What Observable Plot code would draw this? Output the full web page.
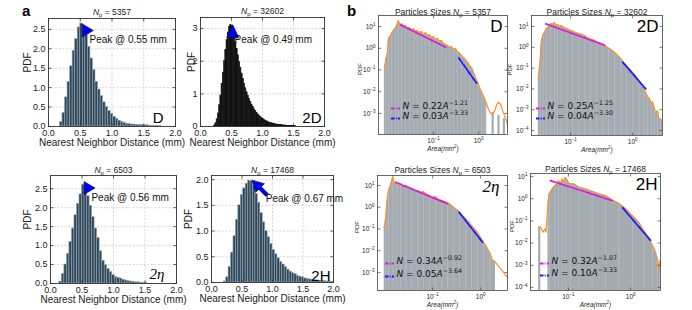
<!DOCTYPE html>
<html><head><meta charset="utf-8">
<script src="https://cdn.jsdelivr.net/npm/d3@7"></script>
<script src="https://cdn.jsdelivr.net/npm/@observablehq/plot@0.6"></script>
<style>
body{margin:0;background:#fff}
#fig{position:relative;width:692px;height:310px;overflow:hidden;background:#fff}
#fig svg{position:absolute;overflow:visible}
.plab{position:absolute;font:bold 15px "Liberation Sans",Arial,sans-serif;color:#000}
</style></head><body><div id="fig"></div>
<script>
// ---------- Panel a : nearest neighbour distance histograms ----------
const nnTicksX = [0, 0.5, 1, 1.5, 2];
const nnD_start = 0.18, nnD_width = 0.04;
const nnD_pdf = [0.12,0.35,0.75,1.15,1.55,1.95,2.25,2.55,2.65,2.58,2.35,2.05,1.75,1.45,1.15,0.95,0.78,0.62,0.50,0.40,0.32,0.25,0.20,0.15,0.12,0.09,0.07,0.06,0.05,0.05,0.04,0.04,0.04,0.03,0.03,0.02,0.02,0.02,0.01,0.01];
const nn2D_start = 0.22, nn2D_width = 0.02;
const nn2D_pdf = [0.03,0.10,0.22,0.40,0.65,0.95,1.30,1.65,2.00,2.35,2.65,2.88,3.05,3.12,3.08,2.95,2.78,2.58,2.38,2.18,1.98,1.80,1.62,1.46,1.31,1.17,1.05,0.94,0.84,0.75,0.67,0.60,0.53,0.47,0.42,0.37,0.33,0.29,0.26,0.23,0.20,0.18,0.16,0.14,0.12,0.11,0.10,0.09,0.08,0.07,0.06,0.055,0.05,0.045,0.04,0.035,0.03,0.03,0.025,0.02,0.02,0.02,0.015,0.015,0.01,0.01];
const nnEta_start = 0.14, nnEta_width = 0.04;
const nnEta_pdf = [0.05,0.25,0.50,0.78,1.10,1.45,1.80,2.10,2.35,2.60,2.55,2.30,2.05,1.75,1.45,1.20,0.85,0.60,0.48,0.38,0.30,0.22,0.17,0.15,0.13,0.10,0.08,0.06,0.05,0.04,0.03,0.03,0.02,0.02,0.01];
const nn2H_start = 0.20, nn2H_width = 0.04;
const nn2H_pdf = [0.02,0.10,0.30,0.58,0.90,1.22,1.50,1.70,1.83,1.92,1.98,1.97,1.88,1.72,1.55,1.35,1.17,1.00,0.88,0.75,0.63,0.55,0.47,0.40,0.35,0.30,0.25,0.21,0.18,0.16,0.13,0.11,0.10,0.08,0.07,0.06,0.05,0.045,0.04,0.035,0.03,0.025,0.02,0.02,0.015];
const nnTitles = ["$N$_{p} = 5357", "$N$_{p} = 32602", "$N$_{p} = 6503", "$N$_{p} = 17468"];
const nnTags = ["D", "2D", "2η", "2H"];
const peakLabels = ["Peak @ 0.55 mm", "Peak @ 0.49 mm", "Peak @ 0.56 mm", "Peak @ 0.67 mm"];
const peakMarker = [[0.62, 2.47], [0.52, 2.92], [0.62, 2.52], [0.665, 1.99]];
const peakText = [[0.645, 2.22], [0.55, 2.66], [0.65, 2.26], [0.89, 1.62]];

// ---------- Panel b : particle size distributions, read in decades (log10 area mm², log10 PDF) ----------
const sizeTitles = ["Particles Sizes $N$_{p} = 5357", "Particles Sizes $N$_{p} = 32602", "Particles Sizes $N$_{p} = 6503", "Particles Sizes $N$_{p} = 17468"];
const dbLogArea = [-2.09,-2.06,-2.02,-2.00,-1.97,-1.93,-1.89,-1.84,-1.81,-1.78,-1.74,-1.71,-1.67,-1.62,-1.58,-1.53,-1.49,-1.44,-1.40,-1.36,-1.31,-1.27,-1.22,-1.18,-1.13,-1.09,-1.04,-1.00,-0.96,-0.91,-0.87,-0.82,-0.78,-0.73,-0.69,-0.64,-0.60,-0.56,-0.51,-0.47,-0.42,-0.38,-0.33,-0.29,-0.24,-0.20,-0.16,-0.11,-0.07,-0.02,0.02,0.07,0.11,0.14,0.18,0.22,0.27,0.31,0.36,0.40,0.44,0.49,0.53,0.59,0.64];
const dbLogPdf  = [-0.93,-0.56,-0.20,0.45,0.54,0.68,0.82,0.95,1.09,1.28,1.05,1.14,1.00,1.05,0.91,0.95,0.82,0.91,0.77,0.82,0.72,0.77,0.63,0.72,0.59,0.63,0.49,0.54,0.40,0.45,0.31,0.36,0.22,0.17,0.13,0.03,0.08,-0.06,-0.01,-0.15,-0.24,-0.33,-0.43,-0.52,-0.66,-0.79,-0.89,-1.11,-1.34,-1.57,-1.80,-2.03,-2.22,-2.36,-2.59,-2.82,-3.00,-3.05,-2.86,-2.59,-2.49,-2.59,-2.86,-3.18,-3.51];
const dbFitM = [[-1.73, 1.08], [-0.73, 0.05]];
const dbFitB = [[-0.44, -0.45], [-0.03, -1.65]];
const dbTailBars = [[0.31, -2.95], [0.44, -3.09], [0.56, -3.25]];
const d2bLogArea = [-1.52,-1.49,-1.47,-1.44,-1.42,-1.39,-1.35,-1.32,-1.29,-1.26,-1.23,-1.21,-1.18,-1.15,-1.11,-1.06,-1.02,-0.97,-0.92,-0.87,-0.82,-0.77,-0.73,-0.68,-0.63,-0.58,-0.53,-0.48,-0.44,-0.39,-0.34,-0.29,-0.24,-0.19,-0.15,-0.10,-0.05,0.00,0.05,0.10,0.15,0.18,0.21,0.24,0.27,0.30,0.32,0.35,0.37,0.40,0.42,0.45,0.48];
const d2bLogPdf  = [-1.50,-0.63,0.33,0.62,0.71,0.90,1.00,1.14,1.10,1.19,1.05,1.10,1.00,1.05,0.95,0.90,0.83,0.78,0.71,0.66,0.62,0.55,0.47,0.40,0.35,0.28,0.21,0.13,0.06,-0.03,-0.13,-0.25,-0.39,-0.54,-0.71,-0.88,-1.04,-1.21,-1.40,-1.60,-1.79,-1.98,-2.17,-2.37,-2.46,-2.70,-2.61,-2.94,-3.18,-3.04,-3.38,-3.47,-3.52];
const d2bFitM = [[-1.40, 1.13], [-0.44, 0.09]];
const d2bFitB = [[-0.16, -0.72], [0.21, -2.00]];
const ebLogArea = [-2.01,-1.98,-1.95,-1.92,-1.88,-1.83,-1.80,-1.75,-1.71,-1.67,-1.63,-1.56,-1.50,-1.44,-1.38,-1.31,-1.25,-1.19,-1.13,-1.06,-1.00,-0.94,-0.88,-0.81,-0.75,-0.69,-0.63,-0.56,-0.50,-0.44,-0.38,-0.31,-0.25,-0.19,-0.13,-0.06,0.00,0.06,0.13,0.19,0.24,0.31,0.56];
const ebLogPdf  = [-0.93,-0.52,0.31,0.77,1.00,1.41,1.09,1.14,1.00,1.09,0.95,1.00,0.91,0.86,0.77,0.77,0.68,0.72,0.59,0.54,0.45,0.49,0.36,0.31,0.26,0.22,0.13,-0.01,-0.10,-0.24,-0.38,-0.52,-0.66,-0.84,-0.98,-1.16,-1.39,-1.62,-1.85,-2.08,-2.40,-2.54,-3.23];
const ebFitM = [[-1.77, 1.15], [-0.69, 0.16]];
const ebFitB = [[-0.45, -0.23], [0.04, -1.61]];
const hbLogArea = [-1.48,-1.45,-1.41,-1.38,-1.36,-1.33,-1.31,-1.26,-1.22,-1.18,-1.16,-1.13,-1.10,-1.08,-1.05,-1.00,-0.97,-0.91,-0.83,-0.73,-0.62,-0.51,-0.40,-0.30,-0.19,-0.08,0.03,0.13,0.21,0.30,0.35,0.39,0.43,0.46,0.47,0.48];
const hbLogPdf  = [-1.28,-1.28,-1.51,-1.36,-1.51,-0.23,0.22,0.45,0.59,0.67,0.82,0.67,0.90,0.74,0.97,0.74,0.67,0.67,0.52,0.45,0.34,0.22,0.14,-0.05,-0.20,-0.45,-0.76,-1.06,-1.43,-1.81,-2.11,-2.33,-2.71,-3.23,-2.78,-3.01];
const hbFitM = [[-1.29, 0.82], [-0.30, -0.08]];
const hbFitB = [[-0.13, -0.40], [0.32, -1.88]];
const hbHeadBars = [[-1.47, -1.28]];
const fitLabels = [
  ["$N$ = 0.22$A$^{−1.21}", "$N$ = 0.03$A$^{−3.33}"],
  ["$N$ = 0.25$A$^{−1.25}", "$N$ = 0.04$A$^{−3.30}"],
  ["$N$ = 0.34$A$^{−0.92}", "$N$ = 0.05$A$^{−3.64}"],
  ["$N$ = 0.32$A$^{−1.07}", "$N$ = 0.10$A$^{−3.33}"]
];
const sizeTags = ["D", "2D", "2η", "2H"];

// ---------- helpers ----------
const SANS = '"Liberation Sans", Arial, sans-serif';
const fig = document.getElementById("fig");
function tickSym(dx, dy) { return {draw(ctx) { ctx.moveTo(0, 0); ctx.lineTo(dx, dy); }}; }
function hline(w) { return {draw(ctx) { ctx.moveTo(-w / 2, 0); ctx.lineTo(w / 2, 0); }}; }
const triRight = {draw(ctx, size) { const r = Math.sqrt(size / Math.PI); ctx.moveTo(r * 0.85, 0); ctx.lineTo(-r * 0.85, -r); ctx.lineTo(-r * 0.85, r); ctx.closePath(); }};
const triUp = {draw(ctx, size) { const r = Math.sqrt(size / Math.PI); ctx.moveTo(0, -r); ctx.lineTo(r * 0.95, r); ctx.lineTo(-r * 0.95, r); ctx.closePath(); }};
const arrowUL = {draw(ctx, size) {
  const k = Math.sqrt(size / Math.PI) / 6, c = Math.SQRT1_2;
  const pt = (a, b) => [a * c - b * c, a * c + b * c];
  const pts = [pt(0, 0), pt(9 * k, 5 * k), pt(9 * k, 1.5 * k), pt(17 * k, 1.5 * k), pt(17 * k, -1.5 * k), pt(9 * k, -1.5 * k), pt(9 * k, -5 * k)];
  ctx.moveTo(...pts[0]); for (const p of pts.slice(1)) ctx.lineTo(...p); ctx.closePath();
}};
const markers = [triRight, triUp, triRight, arrowUL];

function richify(root) {
  root.querySelectorAll("text").forEach(t => {
    const s = t.textContent;
    if (!/\$|\^\{|_\{/.test(s)) return;
    const fs = parseFloat(getComputedStyle(t).fontSize) || 10;
    const segs = []; let it = false, buf = "", i = 0;
    const push = (txt, sh) => { if (txt) segs.push({txt, it, sh}); };
    while (i < s.length) {
      const c = s[i];
      if (c === "$") { push(buf, 0); buf = ""; it = !it; i++; }
      else if ((c === "^" || c === "_") && s[i + 1] === "{") {
        push(buf, 0); buf = ""; const j = s.indexOf("}", i);
        push(s.slice(i + 2, j), c === "^" ? 1 : -1); i = j + 1;
      } else { buf += c; i++; }
    }
    push(buf, 0);
    t.textContent = ""; let cur = 0;
    for (const g of segs) {
      const ts = document.createElementNS("http://www.w3.org/2000/svg", "tspan");
      const target = g.sh === 1 ? -0.42 * fs : g.sh === -1 ? 0.28 * fs : 0;
      ts.setAttribute("dy", (target - cur).toFixed(2)); cur = target;
      if (g.sh) ts.setAttribute("font-size", (0.7 * fs).toFixed(2));
      if (g.it) ts.setAttribute("font-style", "italic");
      ts.textContent = g.txt; t.appendChild(ts);
    }
  });
}
function place(svg, left, top) { svg.style.left = left + "px"; svg.style.top = top + "px"; fig.appendChild(svg); richify(svg); }

// ---------- panel a ----------
function nnPanel(i, start, width, pdf, f, ymax, yticks, yfmt, fill, stroke, o) {
  const mL = 40, mR = 14, mT = 22, mB = 34;
  const bins = pdf.map((v, k) => ({x1: start + k * width, x2: start + (k + 1) * width, y: v}));
  const gridStyle = {stroke: "#c4c4c4", strokeOpacity: 1, strokeDasharray: "2,1.6", strokeWidth: 0.7};
  const svg = Plot.plot({
    width: f[1] - f[0] + mL + mR, height: f[3] - f[2] + mT + mB,
    marginLeft: mL, marginRight: mR, marginTop: mT, marginBottom: mB,
    style: {fontFamily: SANS, fontSize: "9px", background: "none", overflow: "visible", color: "#222"},
    x: {domain: [0, 2]}, y: {domain: [0, ymax]},
    marks: [
      Plot.gridX(nnTicksX, gridStyle),
      Plot.gridY(yticks, gridStyle),
      Plot.rectY(bins, {x1: "x1", x2: "x2", y: "y", fill, stroke, strokeWidth: 0.6}),
      Plot.frame({stroke: "#333", strokeWidth: 0.9}),
      Plot.axisX({ticks: nnTicksX, tickSize: 0, tickPadding: 3, tickFormat: d => d.toFixed(1), label: null, fill: "#222"}),
      Plot.axisY({ticks: yticks, tickSize: 0, tickPadding: 3, tickFormat: yfmt, label: null, fill: "#222"}),
      Plot.dot(nnTicksX, {x: d => d, y: 0, symbol: tickSym(0, -3), r: 2, fill: "none", stroke: "#333", strokeWidth: 0.8}),
      Plot.dot(nnTicksX, {x: d => d, y: ymax, symbol: tickSym(0, 3), r: 2, fill: "none", stroke: "#333", strokeWidth: 0.8}),
      Plot.dot(yticks, {x: 0, y: d => d, symbol: tickSym(3, 0), r: 2, fill: "none", stroke: "#333", strokeWidth: 0.8}),
      Plot.dot(yticks, {x: 2, y: d => d, symbol: tickSym(-3, 0), r: 2, fill: "none", stroke: "#333", strokeWidth: 0.8}),
      Plot.text([nnTitles[i]], {frameAnchor: "top", dy: o.tdy, fontSize: 8.5, fill: "#222"}),
      Plot.text(["Nearest Neighbor Distance (mm)"], {frameAnchor: "bottom", dy: 19, fontSize: 10, fill: "#222"}),
      Plot.text(["PDF"], {frameAnchor: "left", dx: o.pdx, rotate: -90, fontSize: 10, fill: "#222"}),
      Plot.text([nnTags[i]], {frameAnchor: "bottom-right", dx: o.gdx, dy: o.gdy, textAnchor: "end", lineAnchor: "bottom",
        fontSize: 15, fontFamily: i === 2 ? '"Liberation Serif", serif' : SANS, fontStyle: i === 2 ? "italic" : "normal", fill: "#000"}),
      Plot.dot([peakMarker[i]], {x: d => d[0], y: d => d[1], symbol: markers[i], r: i === 3 ? 7.5 : 6.5, fill: "#0000ff", stroke: "#111", strokeWidth: 0.6}),
      Plot.text([peakText[i]], {x: d => d[0], y: d => d[1], text: () => peakLabels[i], textAnchor: "start", fontSize: 10, fill: "#111"})
    ]
  });
  place(svg, f[0] - mL, f[2] - mT);
}
const f1 = d => d.toFixed(1);
nnPanel(0, nnD_start, nnD_width, nnD_pdf, [48, 175, 18, 126], 2.78, [0, 0.5, 1, 1.5, 2, 2.5], f1, "#2e485c", "#97a5af", {tdy: -10, pdx: -21, gdx: -12, gdy: -4});
nnPanel(1, nn2D_start, nn2D_width, nn2D_pdf, [200, 324, 17, 126], 3.34, [0, 1, 2, 3], d => d.toFixed(0), "#111111", "#111111", {tdy: -10, pdx: -9, gdx: -3, gdy: -4});
nnPanel(2, nnEta_start, nnEta_width, nnEta_pdf, [50, 176, 175, 283], 2.85, [0, 0.5, 1, 1.5, 2, 2.5], f1, "#2e485c", "#97a5af", {tdy: -9, pdx: -23, gdx: -12, gdy: -5});
nnPanel(3, nn2H_start, nn2H_width, nn2H_pdf, [211, 333, 175, 282], 2.08, [0, 0.5, 1, 1.5, 2], f1, "#2e485c", "#97a5af", {tdy: -9, pdx: -23, gdx: -3, gdy: -2});

// ---------- panel b (axes in decades, labelled as powers of ten) ----------
function sup10(e) { return "10^{" + String(Math.round(e)).replace("-", "−") + "}"; }
function sizePanel(i, la, lp, fitM, fitB, f, xdom, ydom, yticks, o) {
  const mL = 30, mR = 8, mT = 20, mB = 26;
  const pts = la.map((a, k) => ({a, p: lp[k]}));
  const filled = pts.slice(o.fill[0], o.fill[1]);
  const greyBars = o.bars || [];
  const lineC = "#f7922f", magenta = "#d81fd8", blue = "#1a1aff";
  const legDash = "3.5,1.2,1,1.2";
  const svg = Plot.plot({
    width: f[1] - f[0] + mL + mR, height: f[3] - f[2] + mT + mB,
    marginLeft: mL, marginRight: mR, marginTop: mT, marginBottom: mB,
    style: {fontFamily: SANS, fontSize: "6.5px", background: "none", overflow: "visible", color: "#222"},
    x: {domain: xdom}, y: {domain: ydom},
    marks: [
      Plot.areaY(filled, {x: "a", y1: ydom[0], y2: "p", fill: "#a4acb2"}),
      Plot.ruleX(filled.filter((d, k) => k % 2 === 1), {x: "a", y1: ydom[0], y2: "p", stroke: "#ffffff", strokeOpacity: 0.35, strokeWidth: 0.5}),
      Plot.ruleX(greyBars, {x: d => d[0], y1: ydom[0], y2: d => d[1], stroke: "#a4acb2", strokeWidth: 2.2}),
      Plot.line(pts, {x: "a", y: "p", stroke: lineC, strokeWidth: 1.2}),
      Plot.line(fitM, {x: d => d[0], y: d => d[1], stroke: magenta, strokeWidth: 1.8, strokeDasharray: "4,1.5,1,1.5"}),
      Plot.line(fitB, {x: d => d[0], y: d => d[1], stroke: blue, strokeWidth: 1.8, strokeDasharray: "4,1.5,1,1.5"}),
      Plot.frame({stroke: "#444", strokeWidth: 0.8}),
      Plot.axisX({ticks: [-1, 0], tickSize: 0, tickPadding: 4, tickFormat: sup10, label: null, fill: "#222"}),
      Plot.axisY({ticks: yticks, tickSize: 0, tickPadding: 3, tickFormat: sup10, label: null, fill: "#222"}),
      Plot.dot([-1, 0], {x: d => d, y: ydom[0], symbol: tickSym(0, -3), r: 2, fill: "none", stroke: "#444", strokeWidth: 0.7}),
      Plot.dot([-1, 0], {x: d => d, y: ydom[1], symbol: tickSym(0, 3), r: 2, fill: "none", stroke: "#444", strokeWidth: 0.7}),
      Plot.dot(yticks, {x: xdom[0], y: d => d, symbol: tickSym(3, 0), r: 2, fill: "none", stroke: "#444", strokeWidth: 0.7}),
      Plot.dot(yticks, {x: xdom[1], y: d => d, symbol: tickSym(-3, 0), r: 2, fill: "none", stroke: "#444", strokeWidth: 0.7}),
      Plot.text([sizeTitles[i]], {frameAnchor: "top", dy: o.tdy, fontSize: 8.5, fill: "#222"}),
      Plot.text(["$Area(mm^{2})$"], {frameAnchor: "bottom", dy: 16, fontSize: 6.5, fill: "#222"}),
      Plot.text(["PDF"], {frameAnchor: "left", dx: o.pdx, rotate: -90, fontSize: 6, fill: "#222"}),
      Plot.text([sizeTags[i]], {frameAnchor: "top-right", dx: o.gdx, dy: 4, textAnchor: "end", lineAnchor: "top",
        fontSize: 17, fontFamily: i === 2 ? '"Liberation Serif", serif' : SANS, fontStyle: i === 2 ? "italic" : "normal", fill: "#000"}),
      Plot.dot([0], {frameAnchor: "bottom-left", dx: o.lx + 4, dy: o.ly, symbol: hline(9), r: 2, fill: "none", stroke: magenta, strokeWidth: 1.8, strokeDasharray: legDash}),
      Plot.dot([0], {frameAnchor: "bottom-left", dx: o.lx + 4, dy: o.ly + o.ls, symbol: hline(9), r: 2, fill: "none", stroke: blue, strokeWidth: 1.8, strokeDasharray: legDash}),
      Plot.text([fitLabels[i][0]], {frameAnchor: "bottom-left", dx: o.lx + 11, dy: o.ly, textAnchor: "start", fontSize: 9, fontFamily: '"DejaVu Sans", sans-serif', fill: "#111"}),
      Plot.text([fitLabels[i][1]], {frameAnchor: "bottom-left", dx: o.lx + 11, dy: o.ly + o.ls, textAnchor: "start", fontSize: 9, fontFamily: '"DejaVu Sans", sans-serif', fill: "#111"})
    ]
  });
  place(svg, f[0] - mL, f[2] - mT);
}
sizePanel(0, dbLogArea, dbLogPdf, dbFitM, dbFitB, [378, 507, 15, 134], [-2.22, 0.64], [-3.97, 1.51], [1, 0, -1, -2, -3],
  {fill: [0, 55], bars: dbTailBars, tdy: -7, pdx: -18, gdx: -5, lx: 13, ly: -26, ls: 10});
sizePanel(1, d2bLogArea, d2bLogPdf, d2bFitM, d2bFitB, [531, 662, 15, 135], [-1.63, 0.48], [-4.24, 1.53], [1, 0, -1, -2, -3, -4],
  {fill: [0, 53], tdy: -7, pdx: -21, gdx: -4, lx: 5, ly: -27, ls: 10});
sizePanel(2, ebLogArea, ebLogPdf, ebFitM, ebFitB, [377, 507, 175, 290], [-2.15, 0.56], [-3.83, 1.46], [1, 0, -1, -2, -3],
  {fill: [0, 42], tdy: -9, pdx: -20, gdx: -8, lx: 8, ly: -27, ls: 13});
sizePanel(3, hbLogArea, hbLogPdf, hbFitM, hbFitB, [530, 660, 173, 290], [-1.61, 0.48], [-4.14, 1.14], [1, 0, -1, -2, -3, -4],
  {fill: [5, 36], bars: hbHeadBars, tdy: -8, pdx: -18, gdx: -3, lx: 10, ly: -27, ls: 12});

// panel letters
for (const [t, x, y] of [["a", 22, 2], ["b", 347, 2]]) {
  const d = document.createElement("div"); d.className = "plab"; d.textContent = t;
  d.style.left = x + "px"; d.style.top = y + "px"; fig.appendChild(d);
}
</script></body></html>
